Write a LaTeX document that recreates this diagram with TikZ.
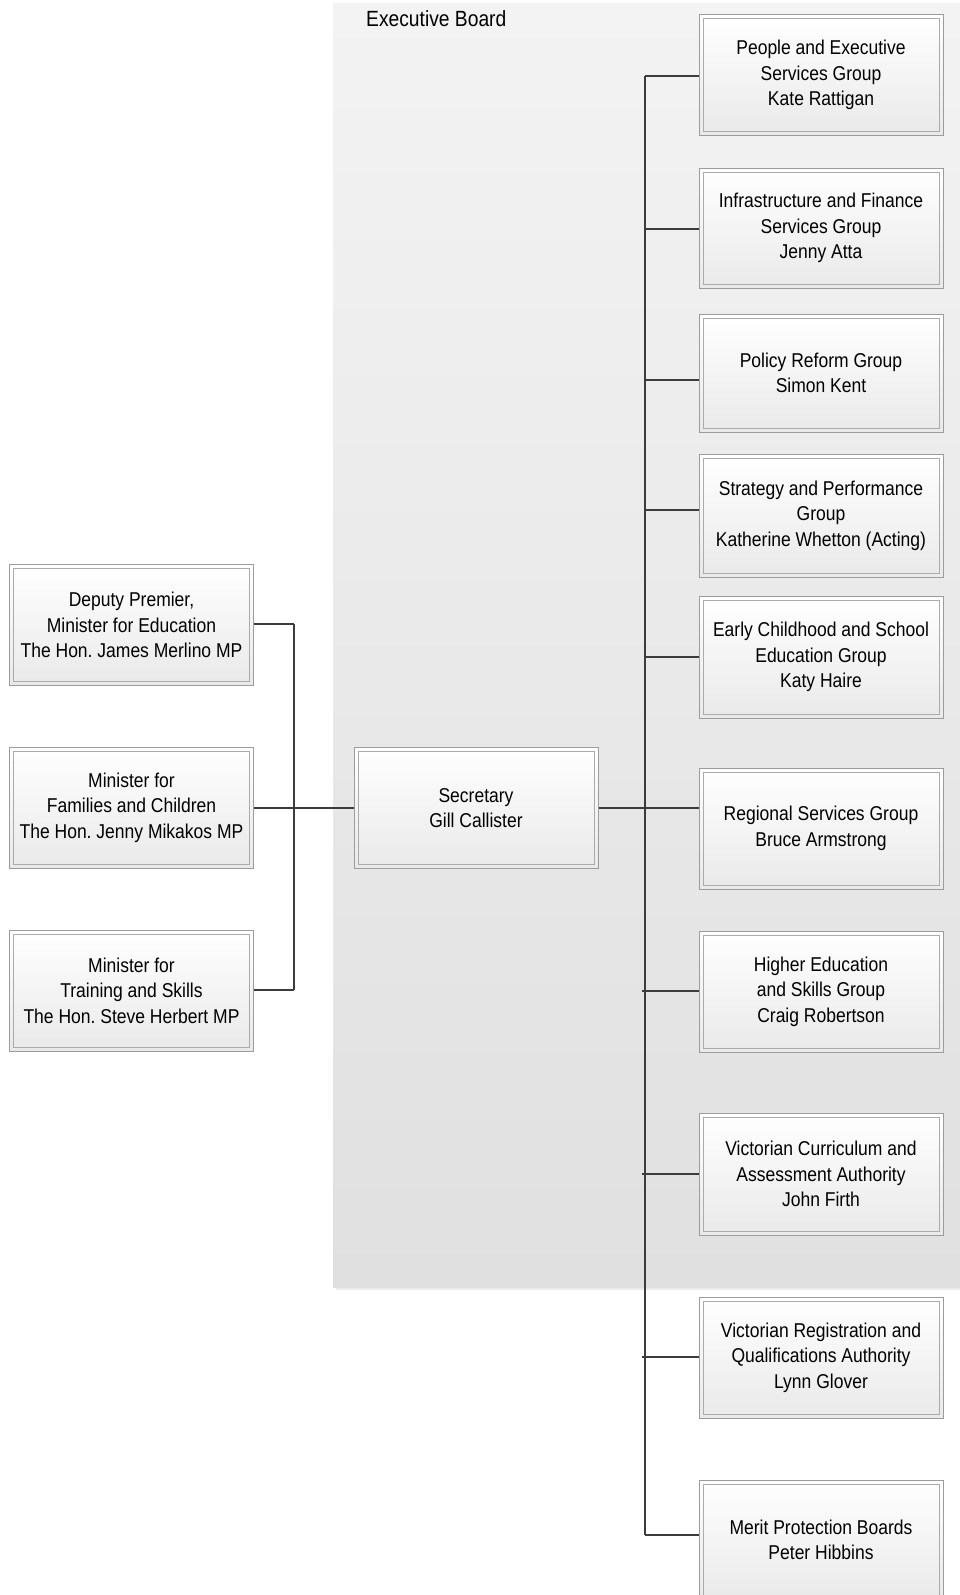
\documentclass[tikz,border=0pt]{standalone}
\usepackage{fontspec}
\setmainfont{Liberation Sans}[FakeStretch=0.875]
\frenchspacing
\definecolor{linec}{HTML}{3C3C3C}
\definecolor{outerb}{HTML}{9C9C9C}
\definecolor{innerb}{HTML}{ABABAB}
\definecolor{bgtop}{HTML}{F3F3F3}
\definecolor{bgbot}{HTML}{E0E0E0}
\definecolor{boxbot}{HTML}{E9E9E9}
\tikzset{
  orgbox/.style={draw=outerb, line width=1pt, top color=white, bottom color=boxbot,
    minimum width=244pt, minimum height=121pt, align=center, inner sep=0pt,
    font=\fontsize{20}{25.5}\selectfont,
    path picture={\draw[innerb, line width=1pt]
      ([shift={(4pt,4pt)}]path picture bounding box.south west) rectangle
      ([shift={(-4pt,-4pt)}]path picture bounding box.north east);}},
  conn/.style={draw=linec, line width=2pt},
  lbl/.style={font=\fontsize{22}{26}\selectfont, inner sep=0pt, anchor=north west}
}
\begin{document}
\begin{tikzpicture}[x=1pt,y=-1pt]
\frenchspacing
\useasboundingbox (0,0) rectangle (960,1595);
\clip (0,0) rectangle (960,1595);
% Executive board background
\fill[bgtop!60!bgbot] (336,7) rectangle (962,1290);
\shade[top color=bgtop, bottom color=bgbot] (333,4) rectangle (962,1287);
\node[lbl] (eb) at (366,10) {Executive Board};

% left boxes
\node[orgbox] (l1) at (131.5,625) {Deputy Premier,\\Minister for Education\\The Hon. James Merlino MP};
\node[orgbox] (l2) at (131.5,807.5) {Minister for\\Families and Children\\The Hon. Jenny Mikakos MP};
\node[orgbox] (l3) at (131.5,990.5) {Minister for\\Training and Skills\\The Hon. Steve Herbert MP};
% secretary
\node[orgbox] (sec) at (476,808) {Secretary\\Gill Callister};

% right boxes
\node[orgbox, minimum height=120pt] (r1) at (821,75) {People and Executive\\Services Group\\Kate Rattigan};
\node[orgbox, minimum height=120pt] (r2) at (821,228) {Infrastructure and Finance\\Services Group\\Jenny Atta};
\node[orgbox, minimum height=118pt] (r3) at (821,373) {Policy Reform Group\\Simon Kent};
\node[orgbox, minimum height=123pt] (r4) at (821,515.5) {Strategy and Performance\\Group\\Katherine Whetton (Acting)};
\node[orgbox, minimum height=122pt] (r5) at (821,657) {Early Childhood and School\\Education Group\\Katy Haire};
\node[orgbox] (r6) at (821,828.5) {Regional Services Group\\Bruce Armstrong};
\node[orgbox] (r7) at (821,991.5) {Higher Education\\and Skills Group\\Craig Robertson};
\node[orgbox, minimum height=122pt] (r8) at (821,1174) {Victorian Curriculum and\\Assessment Authority\\John Firth};
\node[orgbox] (r9) at (821,1357.5) {Victorian Registration and\\Qualifications Authority\\Lynn Glover};
\node[orgbox, minimum height=120pt] (r10) at (821,1540) {Merit Protection Boards\\Peter Hibbins};

% left bus
\coordinate (lb1) at (294,624);
\coordinate (lb2) at (294,808);
\coordinate (lb3) at (294,990);
\draw[conn] (lb1) -- (lb3);
\draw[conn] (l1.east |- lb1) -- (lb1);
\draw[conn] (l2.east |- lb2) -- (sec.west |- lb2);
\draw[conn] (l3.east |- lb3) -- (lb3);

% right bus
\coordinate (b1) at (645,76);
\coordinate (b2) at (645,229);
\coordinate (b3) at (645,380);
\coordinate (b4) at (645,510);
\coordinate (b5) at (645,657);
\coordinate (b6) at (645,808);
\coordinate (b7) at (642,991);
\coordinate (b8) at (642,1174);
\coordinate (b9) at (642,1357);
\coordinate (b10) at (645,1535);
\draw[conn] (b1) -- (b10);
\draw[conn] (b1) -- (b1 -| r1.west);
\draw[conn] (b2) -- (b2 -| r2.west);
\draw[conn] (b3) -- (b3 -| r3.west);
\draw[conn] (b4) -- (b4 -| r4.west);
\draw[conn] (b5) -- (b5 -| r5.west);
\draw[conn] (sec.east |- b6) -- (b6 -| r6.west);
\draw[conn] (b7) -- (b7 -| r7.west);
\draw[conn] (b8) -- (b8 -| r8.west);
\draw[conn] (b9) -- (b9 -| r9.west);
\draw[conn] (b10) -- (b10 -| r10.west);
\end{tikzpicture}
\end{document}
